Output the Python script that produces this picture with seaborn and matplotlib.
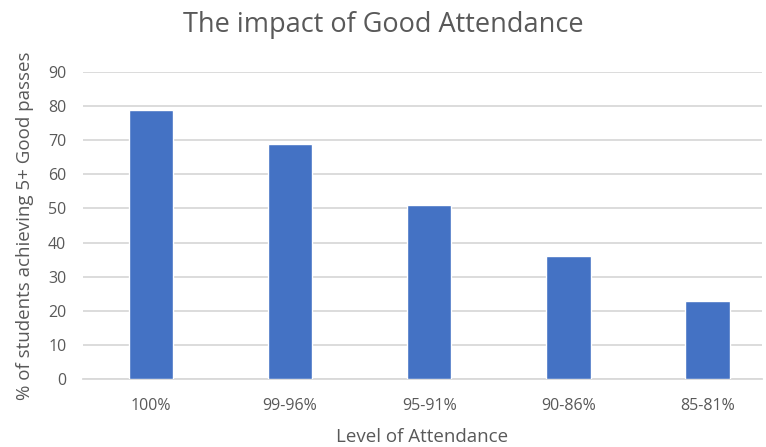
import matplotlib
matplotlib.use("Agg")
import matplotlib.pyplot as plt
import seaborn as sns
import pandas as pd

categories = ["100%", "99-96%", "95-91%", "90-86%", "85-81%"]
values = [79, 69, 51, 36, 23]
yticks = [0, 10, 20, 30, 40, 50, 60, 70, 80, 90]

sns.set_theme(style="white")
plt.rcParams['font.family'] = ['Open Sans', 'DejaVu Sans']

df = pd.DataFrame({"Level": categories, "Pct": values})

fig = plt.figure(figsize=(7.66, 4.47), dpi=100)
ax = fig.add_axes([83/766, 1-379/447, (762-83)/766, (379-72)/447])

sns.barplot(data=df, x="Level", y="Pct", color="#4472C4", width=0.32,
            saturation=1, ax=ax, zorder=3)

ax.set_ylim(0, 90)
ax.set_yticks(yticks)
ax.set_xlim(-0.489, 4.393)
ax.yaxis.grid(True, color="#D9D9D9", linewidth=1.3, zorder=0)
ax.set_axisbelow(True)
for s in ["top", "right", "left"]:
    ax.spines[s].set_visible(False)
ax.spines["bottom"].set_color("#D9D9D9")
ax.spines["bottom"].set_linewidth(1.3)
ax.tick_params(axis="both", length=0, labelsize=11.5, colors="#595959")
ax.tick_params(axis="x", pad=14)
ax.tick_params(axis="y", pad=12)

ax.set_xlabel("Level of Attendance", fontsize=13.5, color="#595959", labelpad=10)
ax.set_ylabel("% of students achieving 5+ Good passes", fontsize=13.5, color="#595959", labelpad=10)
fig.text(0.5, 1-25/447, "The impact of Good Attendance", ha="center", va="center",
         fontsize=19.5, color="#595959")

fig.savefig("out.png", dpi=100)
